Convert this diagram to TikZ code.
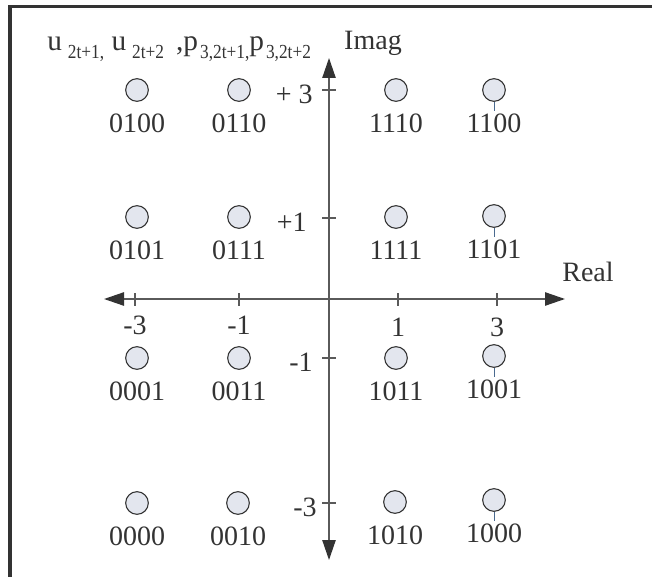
\documentclass[tikz,border=0pt]{standalone}
\usepackage{fontspec}
\setmainfont{Liberation Serif}
\usetikzlibrary{arrows.meta}
\definecolor{plotink}{HTML}{333333}
\definecolor{axisgray}{HTML}{5A5A5A}
\definecolor{dotfill}{HTML}{E3E6EE}
\definecolor{stemblue}{HTML}{4A6A8F}
\newcommand\sublow[1]{\raisebox{-5.5pt}{\scalebox{1}[1.15]{\fontsize{13}{13}\selectfont #1}}}

\begin{document}
\begin{tikzpicture}[
  x=0.75pt,
  y=-0.75pt,
  every node/.style={font=\fontsize{21}{21}\selectfont, text=plotink, inner sep=0pt},
  dot/.style={circle, draw=plotink, fill=dotfill, line width=0.8pt, minimum size=17pt},
  axis/.style={draw=axisgray, line width=1.1pt},
  tickmark/.style={draw=axisgray, line width=0.8pt},
  bitstem/.style={draw=stemblue, line width=0.6pt}
]
  \useasboundingbox (0,0) rectangle (652,577);

  % frame
  \draw[plotink, line width=2.4pt] (10,577) -- (10,6.5) -- (652,6.5);

  % axes
  \coordinate (west) at (104,299);
  \coordinate (east) at (565,299);
  \coordinate (north) at (329,58);
  \coordinate (south) at (329,560);
  \draw[axis, {Triangle[length=15pt,width=10pt,color=plotink]}-{Triangle[length=15pt,width=10pt,color=plotink]}] (west) -- (east);
  \draw[axis, {Triangle[length=15pt,width=10pt,color=plotink]}-{Triangle[length=15pt,width=10pt,color=plotink]}] (north) -- (south);

  \foreach \x in {135,239,398,497}
    \draw[tickmark] (\x,293) -- (\x,306);
  \foreach \y in {90,218,358,503}
    \draw[tickmark] (322,\y) -- (336,\y);

  \node (xm3) at (135,325) {-3};
  \node (xm1) at (239,325) {-1};
  \node (xp1) at (398,327) {1};
  \node (xp3) at (497,327) {3};
  \node[anchor=east] (yp3) at (313,94) {+ 3};
  \node[anchor=east] (yp1) at (307,222) {+1};
  \node[anchor=east] (ym1) at (313,362) {-1};
  \node[anchor=east] (ym3) at (317,507) {-3};

  \node (imag) at (373,43) {Imag};
  \node (real) at (588,272) {Real};
  \node[anchor=base west, font=\fontsize{22}{22}\selectfont] (title) at (47,51)
    {u\hspace{4.5pt}\sublow{2t+1,}\hspace{5.5pt}u\hspace{4.5pt}\sublow{2t+2}\hspace{9pt},p\hspace{1.5pt}\sublow{3,2t+1,}p\hspace{1.5pt}\sublow{3,2t+2}};

  % constellation points
  \foreach \px/\py/\bits in {137/90/0100, 239/90/0110, 396/90/1110, 494/90/1100,
                             137/217/0101, 239/217/0111, 396/217/1111, 494/216/1101,
                             137/358/0001, 239/358/0011, 396/358/1011, 494/356/1001,
                             137/503/0000, 238/503/0010, 395/502/1010, 494/500/1000}
  {
    \node[dot] (p\bits) at (\px,\py) {};
    \node (l\bits) at (\px,\py+33) {\bits};
  }
  \foreach \bits in {1100,1101,1001,1000}
    \draw[bitstem] (p\bits.south) -- ++(0,9);
\end{tikzpicture}
\end{document}
